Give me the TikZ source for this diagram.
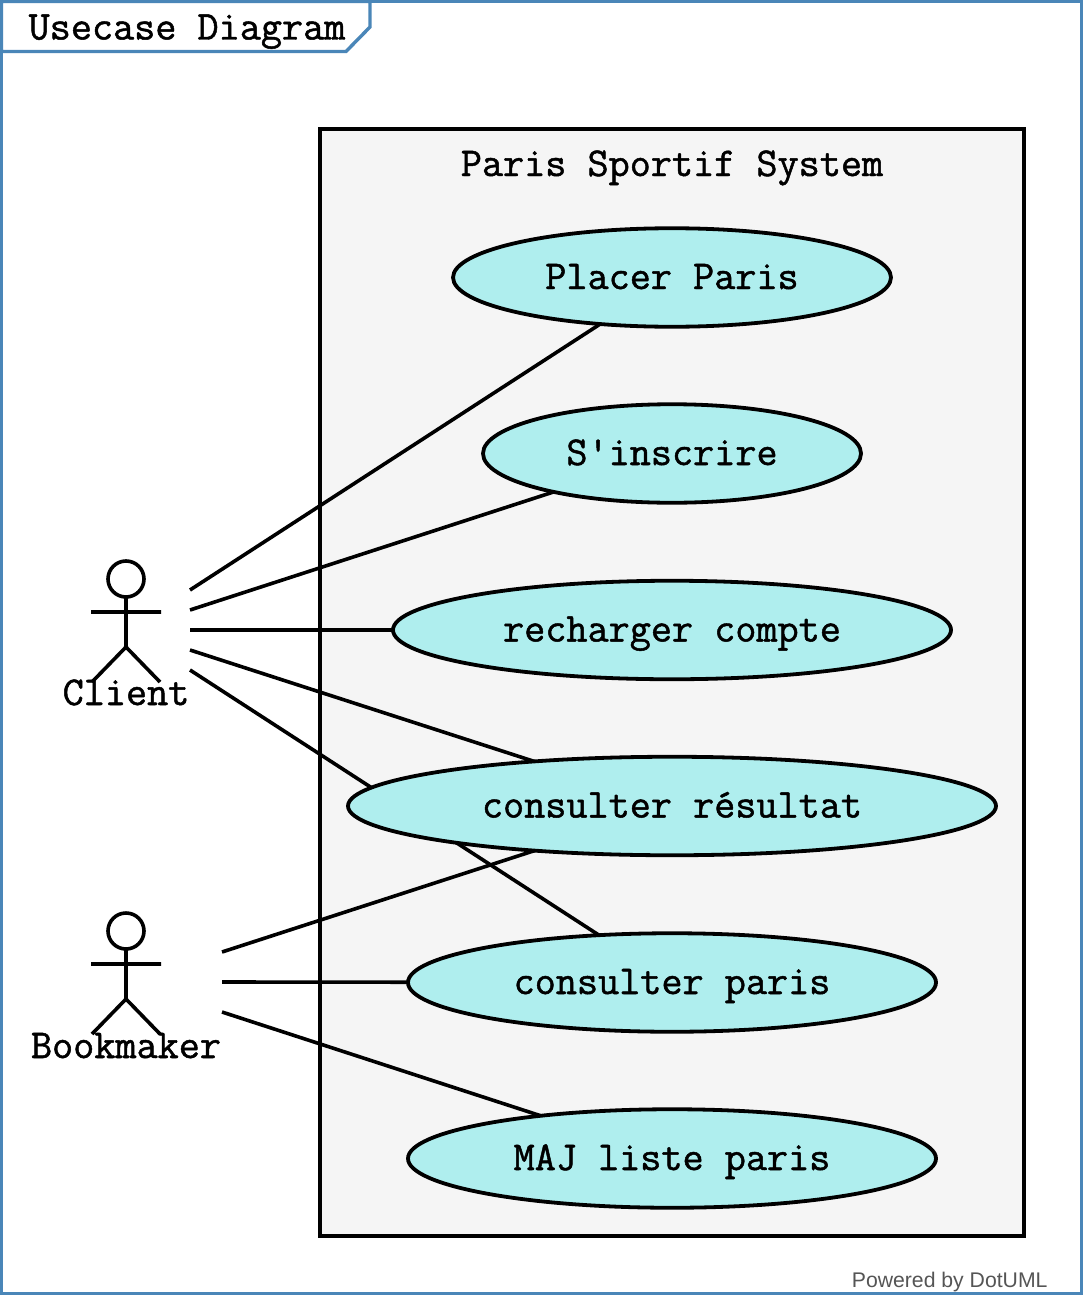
\documentclass[tikz,border=0pt]{standalone}
\usepackage{fontspec}
\setsansfont{Liberation Sans}
\newfontfamily\umlmono[FakeBold=1.2]{Latin Modern Mono}
\usetikzlibrary{shapes.geometric}
\pgfdeclarelayer{boxes}
\pgfdeclarelayer{links}
\pgfsetlayers{boxes,links,main}
\definecolor{framec}{HTML}{4A86B8}
\definecolor{sysfill}{HTML}{F5F5F5}
\definecolor{ucfill}{HTML}{AFEEEE}
\definecolor{footc}{HTML}{555555}
\newcommand{\monotext}{\umlmono\fontsize{41}{44}\selectfont}
\tikzset{
  frameline/.style={draw=framec,line width=3.4pt},
  sysbox/.style={draw=black,fill=sysfill,line width=3.6pt},
  usecase/.style={ellipse,draw=black,fill=ucfill,line width=3.8pt,inner sep=0pt,outer sep=0pt,
    minimum height=98.5pt,text height=23pt,text depth=0pt,font=\monotext},
  link/.style={draw=black,line width=3.6pt},
  stick/.style={draw=black,line width=3.6pt},
  label/.style={inner sep=0pt,outer sep=0pt,anchor=base,font=\monotext}
}
\begin{document}
\begin{tikzpicture}[x=1pt,y=-1pt]
\useasboundingbox (0,0) rectangle (1083,1295);
\begin{pgfonlayer}{boxes}
\fill[white] (0,0) rectangle (1083,1295);
\draw[frameline] (1.5,1.5) rectangle (1081.5,1293.5);
\draw[frameline,fill=white] (1.5,1.5) -- (370,1.5) -- (370,27) -- (346,51.5) -- (1.5,51.5) -- cycle;
\draw[sysbox] (320,129) rectangle (1024,1236);
\end{pgfonlayer}
\node[label] (title) at (187,39.5) {Usecase Diagram};
\node[label] (systitle) at (672,176) {Paris Sportif System};
% use cases
\node[usecase,minimum width=438pt] (placer) at (672,277.5) {Placer Paris};
\node[usecase,minimum width=378pt] (inscrire) at (672,453.5) {S'inscrire};
\node[usecase,minimum width=558pt] (recharger) at (672,630) {recharger compte};
\node[usecase,minimum width=648pt] (resultat) at (672,806) {consulter résultat};
\node[usecase,minimum width=528pt] (paris) at (672,982.5) {consulter paris};
\node[usecase,minimum width=528pt] (maj) at (672,1158.5) {MAJ liste paris};
% client actor
\draw[stick] (126,579) circle (18pt);
\draw[stick] (126,597) -- (126,647) (91,612) -- (161,612) (92,682) -- (126,647) -- (160,682);
\node[label] (client) at (126,705) {Client};
% bookmaker actor
\draw[stick] (126,931) circle (18pt);
\draw[stick] (126,949) -- (126,999) (91,964) -- (161,964) (92,1034) -- (126,999) -- (160,1034);
\node[label] (bookmaker) at (126,1058) {Bookmaker};
% free ends
\coordinate (c1) at (190,590);
\coordinate (c2) at (190,610);
\coordinate (c3) at (190,630);
\coordinate (c4) at (190,650);
\coordinate (c5) at (190,670);
\coordinate (b1) at (222,952);
\coordinate (b2) at (222,982);
\coordinate (b3) at (222,1012);
\begin{pgfonlayer}{links}
\draw[link] (c1) -- (placer);
\draw[link] (c2) -- (inscrire);
\draw[link] (c3) -- (recharger);
\draw[link] (c4) -- (resultat);
\draw[link] (c5) -- (paris);
\draw[link] (b1) -- (resultat);
\draw[link] (b2) -- (paris);
\draw[link] (b3) -- (maj);
\end{pgfonlayer}
\node[inner sep=0pt,outer sep=0pt,anchor=base east,text=footc,font=\sffamily\fontsize{21.2}{24}\selectfont] (foot) at (1047.5,1287.5) {Powered by DotUML};
\end{tikzpicture}
\end{document}
